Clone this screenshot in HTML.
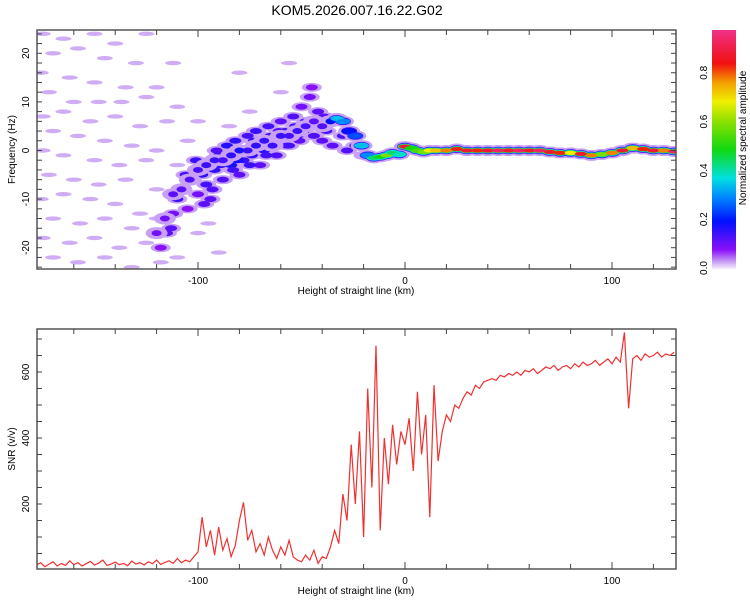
<!DOCTYPE html>
<html><head><meta charset="utf-8"><style>
body{margin:0;background:#fff;width:750px;height:600px;overflow:hidden}
svg{display:block;font-family:"Liberation Sans",sans-serif}
</style></head><body>
<svg id="c" width="750" height="600" viewBox="0 0 750 600" xmlns="http://www.w3.org/2000/svg">
<defs>
<linearGradient id="cmap" x1="0" y1="1" x2="0" y2="0">
<stop offset="0" stop-color="#f4eefc"/><stop offset="0.03" stop-color="#c8a0f4"/>
<stop offset="0.08" stop-color="#8a10f8"/><stop offset="0.2" stop-color="#0010ff"/>
<stop offset="0.3" stop-color="#0088ff"/><stop offset="0.38" stop-color="#00e0e0"/>
<stop offset="0.5" stop-color="#10d810"/><stop offset="0.62" stop-color="#90e000"/>
<stop offset="0.7" stop-color="#f0f000"/><stop offset="0.78" stop-color="#f4a000"/>
<stop offset="0.86" stop-color="#f01010"/><stop offset="1" stop-color="#f03088"/>
</linearGradient>
<clipPath id="clipTop"><rect x="37" y="30" width="639" height="239"/></clipPath>
<clipPath id="clipBot"><rect x="37" y="329" width="639" height="240"/></clipPath>
</defs>
<text x="357" y="15" font-size="14" text-anchor="middle">KOM5.2026.007.16.22.G02</text>
<g id="topg" clip-path="url(#clipTop)"></g>
<g id="botg" clip-path="url(#clipBot)"></g>
<g id="axes"></g>
</svg>
<script>
// ---- spectrogram data ----
const ridgeH=[-120,-116,-112,-108,-104,-100,-96,-92,-88,-84,-80,-76,-72,-68,-64,-60,-56,-52,-48,-44,-40,-36,
 -33,-30,-27,-24,-21,-18,-15,-12,-9,-6,-3,
 0,3,6,9,12,15,
 20,25,30,35,40,45,50,55,60,65,70,75,80,85,90,95,100,105,110,115,120,125,130];
const ridgeF=[-17,-14,-9,-8,-6,-4,-3,-2,-2,-1,0,0,1,2,1,3,3,4,5,6,5,6,
 6.5,6,4,3,1,-1,-1.5,-1.3,-1,-0.5,-0.8,
 0.8,0.5,0,-0.3,0,0,
 0,0.3,0,0,0,0,0,0,0,0,-0.3,-0.5,-0.5,-0.7,-1,-0.8,-0.5,0,0.5,0.3,0,0,-0.2];
const ridgeA=[0.1,0.1,0.12,0.12,0.13,0.14,0.15,0.15,0.14,0.16,0.18,0.15,0.16,0.15,0.15,0.15,0.14,0.15,0.14,0.12,0.13,0.2,
 0.35,0.3,0.2,0.25,0.35,0.3,0.45,0.5,0.6,0.45,0.4,
 0.9,0.5,0.55,0.6,0.7,0.75,
 0.8,0.85,0.9,0.85,0.9,0.95,0.9,0.95,0.9,0.95,0.9,0.85,0.7,0.9,0.8,0.6,0.8,0.9,0.75,0.85,0.9,0.8,0.95];
const cloudH=[-118,-115,-112,-110,-108,-105,-103,-100,-98,-96,-94,-92,-90,-88,-86,-84,-82,-80,-78,-76,-74,-72,-70,-68,-66,-64,-62,-60,-58,-56,-54,-52,-50,-48,-46,-45,-44,-42,-40,-38,-35,-30,-28,-24,-20,
 -113,-106,-101,-97,-93,-89,-85,-81,-77,-73,-69,-65,-61,-57,-53,-49,-43,-39,-91,-83,-75,-67,-59,-51];
const cloudF=[-20,-17,-13,-10,-8,-12,-6,-9,-5,-7,-10,-4,-1,-6,1,-3,2,-5,-2,3,-1,4,-3,0,5,2,-1,6,4,1,7,3,9,6,11,13,3,8,2,4,1,3,0,1,-1,
 -16,-5,-2,-11,-8,-3,-1,-2,0,2,1,3,4,1,5,4,5,7,0,-4,-3,-1,3,2];
const cloudA=[.08,.12,.1,.15,.1,.08,.14,.1,.16,.14,.12,.16,.15,.13,.17,.18,.16,.12,.15,.14,.16,.15,.12,.16,.14,.15,.13,.12,.15,.14,.13,.15,.1,.14,.1,.08,.13,.12,.12,.14,.12,.14,.13,.15,.14,
 .12,.14,.15,.12,.13,.16,.17,.18,.15,.16,.14,.15,.13,.14,.15,.13,.14,.12,.13,.14,.15,.14,.13,.12];
const noiseH=[-175,-165,-150,-140,-125,-170,-158,-145,-130,-112,-176,-162,-150,-135,-120,-172,-160,-148,-137,-125,-110,-175,-165,-152,-140,-128,-115,-170,-158,-145,-132,-120,-105,-175,-165,-150,-138,-125,-110,-172,-160,-148,-135,-120,-176,-165,-152,-140,-128,-170,-157,-145,-132,-175,-162,-150,-138,-125,-170,-158,-145,-132,-118,-110,-90,-100,-95,-60,-75,-85,-100,-56,-80,-120];
const noiseF=[24,23,24,22,24,20,21,19,18,18,16,15,14,13,13,12,10,10,10,11,9,7,8,6,7,5,6,4,3,2,1,0,2,0,-1,-2,-3,-2,-3,-5,-6,-7,-6,-8,-10,-9,-10,-11,-13,-14,-15,-14,-16,-18,-19,-18,-20,-19,-22,-23,-22,-24,-23,-22,-21,-17,-15,12,8,5,6,18,16,-14];
// ---- SNR data (every 2 km from -178) ----
const snrStart=-178, snrStep=2;
const snrVals=[15,22,10,18,25,12,20,14,28,16,22,12,19,26,15,21,30,14,18,24,16,20,13,27,18,22,15,25,19,30,17,23,28,20,35,22,30,25,40,
 55,160,70,120,45,130,60,95,40,75,150,205,90,120,55,80,45,100,60,35,70,45,90,40,30,
 25,45,30,60,20,40,35,70,
 120,80,230,150,380,200,420,100,550,250,
 680,120,400,260,440,320,420,380,
 460,300,540,350,470,160,560,330,
 420,470,450,500,490,520,540,530,560,550,570,575,
 580,575,590,585,595,590,600,590,605,600,610,595,605,615,610,620,605,615,620,610,625,615,630,620,625,635,620,630,640,625,645,630,720,490,640,650,635,655,645,650,660,645,655,650,660];
const xTicks=[-100,0,100];
const fTicks=[-20,-10,0,10,20];
const snrTicks=[200,400,600];
const cbTicks=[0.0,0.2,0.4,0.6,0.8];

const NS='http://www.w3.org/2000/svg';
const L=37,R=676,T1=30,B1=269,T2=329,B2=569;
const xs=h=>405+h*2.07;
const yf=f=>150.5-f*4.86;
const ys=v=>570-v*0.33;
const stops=[[0,[244,238,252]],[0.03,[200,160,244]],[0.08,[138,16,248]],[0.2,[0,16,255]],[0.3,[0,136,255]],[0.38,[0,224,224]],[0.5,[16,216,16]],[0.62,[144,224,0]],[0.7,[240,240,0]],[0.78,[244,160,0]],[0.86,[240,16,16]],[1,[240,48,136]]];
function cmap(a){for(let i=1;i<stops.length;i++){if(a<=stops[i][0]){const[a0,c0]=stops[i-1],[a1,c1]=stops[i];const t=(a-a0)/(a1-a0);return'rgb('+c0.map((c,k)=>Math.round(c+(c1[k]-c)*t)).join(',')+')';}}return'rgb(240,48,136)';}
function mk(tag,attrs,parent){const e=document.createElementNS(NS,tag);for(const k in attrs)e.setAttribute(k,attrs[k]);parent.appendChild(e);return e;}
const gTop=document.getElementById('topg'),gBot=document.getElementById('botg'),gAx=document.getElementById('axes');

noiseH.forEach((h,i)=>{const e=mk('ellipse',{cx:xs(h),cy:yf(noiseF[i]),rx:8,ry:2.2,fill:cmap(0.025)},gTop);

});
cloudH.forEach((h,i)=>{mk('ellipse',{cx:xs(h),cy:yf(cloudF[i]),rx:10,ry:4.5,fill:cmap(0.03)},gTop);});
cloudH.forEach((h,i)=>{const e=mk('ellipse',{cx:xs(h),cy:yf(cloudF[i]),rx:6,ry:3,fill:cmap(cloudA[i])},gTop);

});
ridgeH.forEach((h,i)=>{const w=(i<22)?8:8;mk('ellipse',{cx:xs(h),cy:yf(ridgeF[i]),rx:w+3,ry:h<-30?6:5.5,fill:cmap(0.03)},gTop);});
ridgeH.forEach((h,i)=>{if(h>=-35)mk('ellipse',{cx:xs(h),cy:yf(ridgeF[i]),rx:8,ry:3.8,fill:cmap(0.15)},gTop);});
ridgeH.forEach((h,i)=>{if(h>=-35)mk('ellipse',{cx:xs(h),cy:yf(ridgeF[i]),rx:7.5,ry:3,fill:cmap(Math.min(0.38,ridgeA[i]))},gTop);});
ridgeH.forEach((h,i)=>{if(h>=0)mk('ellipse',{cx:xs(h),cy:yf(ridgeF[i]),rx:7,ry:2.4,fill:cmap(Math.min(0.55,ridgeA[i]))},gTop);});
ridgeH.forEach((h,i)=>{const e=mk('ellipse',{cx:xs(h),cy:yf(ridgeF[i]),rx:h<-35?5:6,ry:h<-35?3:2,fill:cmap(ridgeA[i])},gTop);

});

let d='';snrVals.forEach((v,i)=>{d+=(i?'L':'M')+xs(snrStart+i*snrStep).toFixed(1)+' '+ys(v).toFixed(1);});
const ln=mk('path',{d:d,fill:'none',stroke:'#f03030','stroke-width':1.2},gBot);



function frame(t,b,yfun,yT,minorStep,ymin,ymax,ylabel){
 mk('rect',{x:L,y:t,width:R-L,height:b-t,fill:'none',stroke:'#555','stroke-width':1.5},gAx);
 for(let h=-160;h<=130;h+=20){const x=xs(h);const len=(h%100===0)?7:5;
  mk('line',{x1:x,x2:x,y1:t,y2:t+len,stroke:'#444'},gAx);mk('line',{x1:x,x2:x,y1:b,y2:b-len,stroke:'#444'},gAx);}
 xTicks.forEach(h=>{const e=mk('text',{x:xs(h),y:b+15,'font-size':10,'text-anchor':'middle'},gAx);e.textContent=h;
  
  });
 for(let v=Math.ceil(ymin/minorStep)*minorStep;v<=ymax;v+=minorStep){const y=yfun(v);if(y<t||y>b)continue;
  mk('line',{x1:L,x2:L+5,y1:y,y2:y,stroke:'#444'},gAx);mk('line',{x1:R,x2:R-5,y1:y,y2:y,stroke:'#444'},gAx);}
 yT.forEach(v=>{const y=yfun(v);const e=mk('text',{x:0,y:0,'font-size':10,'text-anchor':'middle',transform:'translate(29,'+y+') rotate(-90)'},gAx);e.textContent=v;
  
  });
 const xl=mk('text',{x:356,y:b+25,'font-size':10,'text-anchor':'middle'},gAx);xl.textContent='Height of straight line (km)';
 
 
 const yl=mk('text',{x:0,y:0,'font-size':10,'text-anchor':'middle',transform:'translate(15,'+((t+b)/2)+') rotate(-90)'},gAx);yl.textContent=ylabel;
 
 
}
frame(T1,B1,yf,fTicks,2,-26,26,'Frequency (Hz)');
frame(T2,B2,ys,snrTicks,50,0,750,'SNR (v/v)');

const cb=mk('rect',{x:712,y:30,width:24,height:239,fill:'url(#cmap)'},gAx);


cbTicks.forEach(v=>{const y=268-v*244;const e=mk('text',{x:0,y:0,'font-size':10,'text-anchor':'middle',transform:'translate(707,'+y+') rotate(-90)'},gAx);
 e.textContent=v.toFixed(1);
 
 });
const ct=mk('text',{x:0,y:0,'font-size':10,'text-anchor':'middle',transform:'translate(746,138) rotate(-90)'},gAx);ct.textContent='Normalized spectral amplitude';


</script>
</body></html>
